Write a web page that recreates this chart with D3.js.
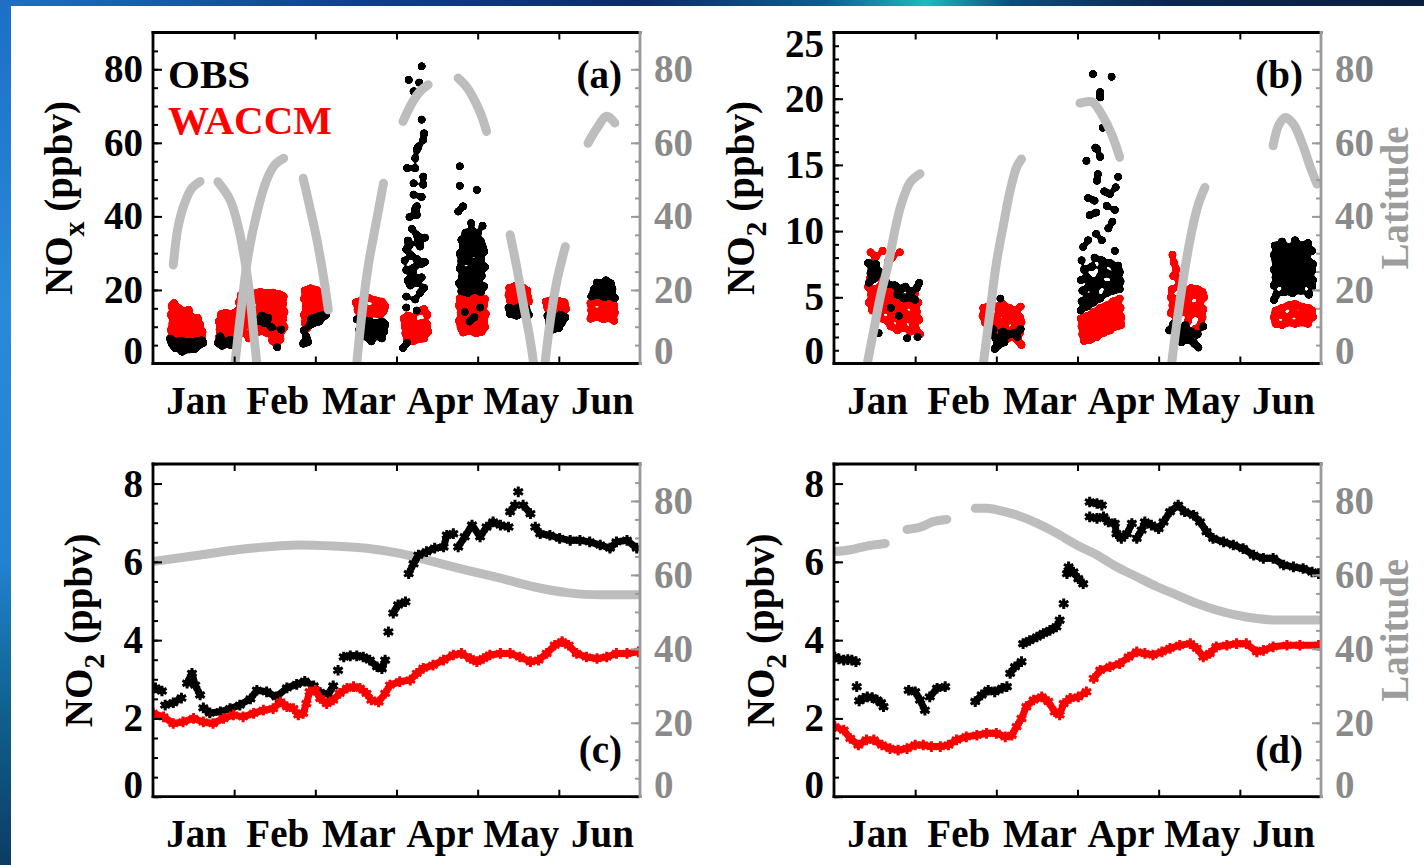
<!DOCTYPE html>
<html>
<head>
<meta charset="utf-8">
<title>NOx and NO2: observations and WACCM</title>
<script src="https://cdn.jsdelivr.net/npm/d3@7"></script>
<style>
  html, body { margin: 0; padding: 0; background: #fff; }
  svg { display: block; }
</style>
</head>
<body>
<svg id="fig" width="1424" height="865"></svg>
<script>
// ---------------------------------------------------------------------------
// Data. Time is measured in months from 1 January (0 = 1 Jan, 6 = 30 Jun).
// Each sample is [month, value].
// ---------------------------------------------------------------------------
const monthLabels = ["Jan", "Feb", "Mar", "Apr", "May", "Jun"];
const monthBoundaries = [1, 2, 3, 4, 5];
const noxTicks = [0, 20, 40, 60, 80];
const no2TicksB = [0, 5, 10, 15, 20, 25];
const no2TicksCD = [0, 2, 4, 6, 8];
const latTicks = [0, 20, 40, 60, 80];

// (a) NOx, flight samples
const obsA = [
  [0.23,5.4],[0.31,4.6],[0.36,3.2],[0.40,4.8],[0.48,4.4],[0.56,4.9],[0.62,5.6],[0.21,6.8],[0.28,5.9],[0.35,6.2],
  [0.44,5.8],[0.53,6.0],[0.60,6.3],[0.27,4.2],[0.52,4.0],[0.45,3.8],
  [0.80,5.6],[0.85,4.8],[0.90,5.4],[0.96,5.0],[1.02,5.8],[0.83,7.4],[0.95,6.4],[1.37,11.0],[1.42,12.4],[1.46,9.8],
  [1.34,13.0],[1.53,4.4],[1.28,11.6],[1.58,9.2],
  [1.95,12.2],[2.02,12.6],[2.07,13.0],[1.98,11.0],[2.05,11.4],[1.86,9.0],[1.89,7.2],[1.85,5.4],[1.91,5.8],[1.93,10.4],
  [2.10,12.8],[2.13,13.2],
  [2.51,12.0],[2.58,11.2],[2.66,11.6],[2.74,11.0],[2.82,11.4],[2.86,10.6],[2.54,9.2],[2.62,9.6],[2.70,9.0],[2.78,9.4],
  [2.85,8.8],[2.58,7.4],[2.66,7.0],[2.74,7.6],[2.82,6.8],[2.69,6.0],
  [3.31,80.8],[3.15,77.1],[3.28,76.4],[3.21,74.0],[3.31,66.3],[3.34,62.6],[3.33,60.8],[3.27,59.0],[3.25,58.1],[3.23,55.8],
  [3.13,53.1],[3.23,53.1],[3.33,50.8],[3.21,49.0],[3.33,48.6],[3.21,45.9],[3.31,45.3],[3.25,42.7],[3.23,41.9],[3.25,40.4],
  [3.16,39.8],[3.25,35.0],[3.35,34.2],[3.14,33.4],[3.16,32.2],[3.29,31.8],[3.12,31.0],[3.25,28.4],[3.35,27.6],[3.21,26.0],
  [3.12,25.4],[3.31,23.4],[3.25,22.0],[3.17,21.2],[3.29,19.2],[3.12,18.2],[3.23,17.4],[3.12,15.2],[3.25,14.4],[3.13,5.6],
  [3.08,4.2],[3.18,29.4],[3.30,27.0],[3.20,24.2],[3.34,20.6],[3.14,22.6],[3.27,33.0],[3.19,36.6],[3.10,28.0],
  [3.80,19.6],[3.88,19.2],[3.96,20.0],[4.04,19.4],
  [3.77,21.8],[3.85,21.2],[3.93,22.0],[4.01,21.6],[4.08,21.0],
  [3.81,23.6],[3.89,24.0],[3.97,23.2],[4.05,23.8],
  [3.78,25.8],[3.86,25.2],[3.94,26.0],[4.02,25.4],[4.09,26.2],
  [3.80,27.8],[3.88,28.0],[3.96,27.4],[4.04,28.2],
  [3.78,29.8],[3.86,29.4],[3.94,30.2],[4.02,29.6],[4.08,30.4],
  [3.82,31.6],[3.90,32.0],[3.98,31.2],[4.06,31.8],
  [3.80,33.6],[3.88,34.2],[3.96,33.8],[4.04,33.2],
  [3.85,35.6],[3.93,36.0],[4.00,35.4],
  [3.78,53.6],[3.78,48.3],[3.99,47.2],[3.82,42.7],[3.76,41.3],[3.92,38.2],[4.06,37.4],[3.84,14.0],[3.96,12.6],[4.03,15.2],
  [3.90,11.4],
  [4.38,15.2],[4.45,14.8],[4.52,15.4],[4.60,15.0],[4.40,13.4],[4.48,13.0],[4.56,13.6],[4.63,13.2],
  [4.86,13.0],[4.94,12.4],[5.02,13.2],[5.08,12.6],[4.88,11.0],[4.96,10.6],[5.04,11.2],[4.92,9.2],[5.00,9.6],
  [5.40,18.2],[5.48,18.6],[5.56,18.0],[5.64,18.4],[5.69,17.8],[5.43,20.0],[5.51,20.4],[5.59,19.8],[5.66,20.2],[5.47,22.0],
  [5.58,22.6],[5.64,21.8],[5.53,21.4]
];
const waccmA = [
  [0.24,7.2],[0.33,6.8],[0.42,7.1],[0.51,6.7],[0.60,7.0],
  [0.22,9.1],[0.28,8.8],[0.37,9.3],[0.46,8.9],[0.55,9.2],[0.61,8.6],
  [0.24,11.0],[0.33,11.4],[0.42,10.8],[0.51,11.2],[0.58,10.6],
  [0.22,13.2],[0.29,12.8],[0.38,13.0],[0.47,12.6],[0.55,12.4],
  [0.23,15.6],[0.27,14.6],[0.32,15.0],[0.36,14.2],[0.44,14.6],[0.26,16.4],
  [0.81,7.0],[0.86,6.2],[0.92,6.8],[0.98,7.4],[1.03,6.6],
  [0.82,9.2],[0.88,8.6],[0.94,9.4],[1.00,8.8],
  [0.81,11.4],[0.87,11.0],[0.93,11.8],[0.99,11.2],
  [0.84,13.4],[0.90,13.8],[0.96,13.2],[1.02,14.0],
  [1.08,18.6],[1.16,19.4],[1.24,19.0],[1.32,19.5],[1.40,19.1],[1.48,19.3],[1.56,18.8],[1.61,18.2],
  [1.06,16.6],[1.12,17.2],[1.20,16.8],[1.28,17.3],[1.36,16.9],[1.44,17.1],[1.52,16.7],[1.60,16.2],
  [1.07,14.6],[1.16,15.0],[1.24,14.4],[1.32,14.9],[1.40,14.5],[1.48,15.1],[1.56,14.6],[1.62,14.0],
  [1.05,12.4],[1.12,12.8],[1.20,12.2],[1.28,12.7],[1.36,12.5],[1.44,12.9],[1.52,12.3],[1.60,12.0],
  [1.06,10.2],[1.16,10.6],[1.24,10.1],[1.32,10.5],[1.40,10.3],[1.48,10.8],[1.56,10.2],[1.62,9.8],
  [1.10,8.4],[1.20,8.0],[1.30,8.6],[1.40,8.3],[1.50,8.1],[1.58,8.7],
  [1.47,6.2],[1.52,5.2],[1.57,6.6],[1.18,6.8],
  [1.87,19.8],[1.94,20.4],[2.01,20.0],[2.06,19.2],
  [1.86,17.6],[1.92,18.0],[1.99,17.8],[2.05,17.2],
  [1.88,15.4],[1.95,15.8],[2.02,15.6],[2.07,15.0],
  [1.86,13.2],[1.93,13.6],[2.00,13.4],
  [1.87,11.0],[1.90,9.6],
  [2.50,16.6],[2.58,17.4],[2.66,17.8],[2.74,17.2],[2.82,16.8],[2.86,15.6],
  [2.52,14.6],[2.60,15.2],[2.68,14.8],[2.76,15.4],[2.84,14.2],
  [2.55,13.4],[2.64,13.0],[2.72,13.6],[2.80,13.2],
  [3.09,12.2],[3.14,13.0],[3.20,12.6],[3.28,14.2],[3.34,14.8],[3.38,13.2],
  [3.10,10.2],[3.17,10.8],[3.24,10.4],[3.31,11.0],[3.38,10.6],
  [3.11,8.2],[3.18,8.8],[3.25,8.4],[3.32,9.0],[3.39,8.6],
  [3.13,6.4],[3.20,6.0],[3.27,6.6],[3.34,6.8],
  [3.78,17.8],[3.86,18.4],[3.94,18.0],[4.02,18.3],[4.09,17.6],
  [3.77,15.8],[3.84,16.2],[3.92,15.6],[4.00,16.4],[4.08,15.9],
  [3.79,13.8],[3.87,14.2],[3.95,13.6],[4.03,14.0],[4.10,13.5],
  [3.77,11.6],[3.85,12.0],[3.93,11.4],[4.01,12.2],[4.08,11.8],
  [3.79,9.8],[3.86,9.4],[3.94,10.0],[4.02,9.6],[4.09,9.9],
  [3.82,8.4],[3.90,8.8],[3.98,8.2],[4.05,8.6],
  [4.39,20.6],[4.47,21.2],[4.55,20.8],[4.61,19.8],[4.38,18.6],[4.46,19.0],[4.54,18.4],[4.62,18.0],[4.40,17.0],[4.48,16.6],
  [4.56,17.2],[4.63,16.8],
  [4.84,16.8],[4.92,17.4],[5.00,17.0],[5.07,16.6],[4.86,15.0],[4.94,14.6],[5.02,15.2],[5.09,14.8],
  [5.39,16.4],[5.47,16.8],[5.55,16.2],[5.63,16.6],[5.68,15.8],[5.40,14.4],[5.48,14.0],[5.56,14.6],[5.64,14.2],[5.69,13.8],
  [5.39,12.2],[5.47,12.6],[5.55,12.0],[5.63,12.4],[5.68,11.6]
];
// (a) latitude along each flight, degrees
const latTracksA = [
  [[0.25,26.8],[0.31,37.2],[0.39,43.6],[0.48,47.7],[0.58,49.5]],
  [[0.80,49.4],[0.95,44.5],[1.05,37.2],[1.13,28.2],[1.20,17.3],[1.24,8.2],[1.28,0]],
  [[1.01,0],[1.09,15.5],[1.17,29.1],[1.28,40.9],[1.40,49.9],[1.50,54.0],[1.61,55.8]],
  [[1.85,50.4],[1.93,42.7],[2.02,33.6],[2.10,23.6],[2.16,14.6]],
  [[2.51,0],[2.57,12.7],[2.65,26.3],[2.74,37.2],[2.84,49.0]],
  [[3.08,65.8],[3.19,70.8],[3.29,74.0],[3.39,75.8]],
  [[3.76,77.6],[3.86,75.3],[3.97,71.2],[4.05,67.2],[4.11,63.1]],
  [[4.40,35.0],[4.48,26.3],[4.56,16.4],[4.64,7.3],[4.69,0]],
  [[4.83,0],[4.89,10.9],[4.97,21.8],[5.08,31.8]],
  [[5.36,59.9],[5.47,64.0],[5.59,67.2],[5.69,65.4]]
];

// (b) NO2, flight samples
const obsB = [
  [0.42,7.6],[0.47,7.2],[0.52,7.5],[0.45,6.8],[0.50,6.4],[0.57,6.9],[0.62,6.6],[0.66,6.0],[0.43,6.1],
  [0.75,5.9],[0.82,5.6],[0.88,5.8],[0.95,5.4],[1.02,5.7],[0.78,5.2],[0.86,4.9],[0.93,5.0],[1.00,4.8],[1.05,6.1],
  [0.55,2.3],[0.90,1.9],[1.03,2.0],[0.80,3.6],[0.70,4.2],
  [2.05,4.9],[1.94,2.2],[2.00,1.8],[2.06,2.0],[2.03,1.4],[2.10,1.6],[1.98,1.1],[2.16,2.2],[2.22,2.3],[2.26,2.0],
  [2.08,2.4],[1.96,2.6],[2.30,2.6],
  [3.04,4.0],[3.12,4.3],[3.20,4.6],[3.28,4.9],
  [3.05,4.7],[3.13,5.0],[3.21,5.2],[3.36,5.3],[3.44,5.5],[3.52,5.6],
  [3.06,5.5],[3.14,5.8],[3.22,5.6],[3.30,6.0],[3.38,5.9],[3.46,6.1],[3.53,6.2],
  [3.04,6.3],[3.12,6.5],[3.20,6.2],[3.28,6.6],[3.36,6.8],[3.44,6.6],[3.52,6.9],
  [3.08,7.1],[3.18,7.3],[3.30,7.2],[3.40,7.6],[3.50,7.4],
  [3.19,21.85],[3.42,21.65],[3.28,20.5],[3.28,20.1],[3.31,17.8],[3.22,16.3],[3.11,15.3],[3.24,16.2],[3.25,14.3],[3.50,14.1],
  [3.24,13.8],[3.47,13.3],[3.13,12.5],[3.21,12.3],[3.36,11.9],[3.46,11.6],[3.23,11.4],[3.43,10.7],[3.23,9.8],[3.13,9.3],
  [3.30,9.3],[3.46,8.5],[3.21,8.0],[3.30,7.8],[3.17,7.3],[3.46,7.3],[3.50,6.8],[3.07,8.8],[3.38,10.2],[3.15,11.2],
  [3.40,12.8],[3.28,15.6],[3.33,13.0],[3.05,7.8],
  [4.18,3.0],[4.26,2.6],[4.33,2.9],[4.40,2.4],[4.30,2.2],[4.22,2.0],[4.37,1.8],[4.44,1.5],[4.49,1.2],[4.28,1.6],
  [4.48,2.2],[4.55,2.8],[4.13,2.5],
  [5.43,8.9],[5.52,9.2],[5.60,8.8],[5.68,9.3],[5.76,8.9],[5.84,9.1],
  [5.42,8.2],[5.50,8.5],[5.58,8.3],[5.66,8.6],[5.74,8.2],[5.82,8.4],[5.89,8.5],
  [5.44,7.7],[5.52,7.9],[5.60,7.6],[5.68,7.9],[5.76,7.7],[5.84,7.8],[5.90,7.5],
  [5.42,7.1],[5.50,7.3],[5.58,7.0],[5.66,7.2],[5.74,7.1],[5.82,7.3],[5.89,7.0],
  [5.44,6.5],[5.52,6.7],[5.60,6.4],[5.68,6.6],[5.76,6.5],[5.84,6.7],[5.90,6.3],
  [5.42,5.9],[5.50,6.1],[5.58,5.8],[5.66,6.0],[5.74,5.9],[5.82,6.1],[5.89,5.8],
  [5.45,5.2],[5.55,5.4],[5.65,5.3],[5.75,5.5],[5.85,5.2],[5.42,4.8]
];
const waccmB = [
  [0.45,8.4],[0.52,8.1],[0.60,8.5],[0.72,8.0],[0.81,8.4],[0.48,7.6],[0.67,7.8],
  [0.44,6.4],[0.55,6.6],[0.64,6.2],
  [0.42,5.8],[0.50,5.6],[0.58,5.9],[0.66,5.5],[0.74,5.7],
  [0.46,5.2],[0.54,5.0],[0.62,5.3],[0.70,4.9],[0.78,5.1],[0.86,5.0],[0.92,5.1],[1.00,5.3],
  [0.43,4.6],[0.51,4.4],[0.59,4.7],[0.67,4.3],[0.75,4.6],[0.83,4.4],[0.91,4.5],[0.99,4.2],[1.04,4.6],
  [0.47,4.0],[0.55,3.8],[0.63,4.1],[0.71,3.7],[0.79,4.0],[0.87,3.8],[0.95,3.6],[1.02,3.9],
  [0.58,3.4],[0.66,3.2],[0.74,3.5],[0.82,3.1],[0.90,3.4],[0.98,3.0],[1.05,3.3],
  [0.70,2.8],[0.78,2.5],[0.86,2.7],[0.94,2.4],[1.01,2.6],[1.06,2.2],
  [1.84,4.2],[1.92,4.4],[2.00,4.3],[2.08,4.5],[2.16,4.2],[2.24,4.0],[2.30,4.3],
  [1.83,3.6],[1.89,3.8],[1.97,3.5],[2.05,3.9],[2.13,3.6],[2.21,3.8],[2.29,3.5],
  [1.86,3.1],[1.94,2.9],[2.02,3.2],[2.10,3.0],[2.18,3.3],[2.26,2.9],[2.31,3.1],
  [1.90,2.5],[1.98,2.3],[2.06,2.6],[2.14,2.4],[2.22,2.6],[2.29,2.3],
  [2.12,1.8],[2.20,2.0],[2.27,1.7],[2.31,1.4],
  [3.04,3.4],[3.12,3.6],[3.20,3.9],[3.28,4.2],[3.36,4.4],[3.44,4.7],[3.52,4.9],
  [3.05,2.8],[3.13,3.0],[3.21,3.2],[3.29,3.5],[3.37,3.7],[3.45,4.0],[3.53,4.2],
  [3.06,2.2],[3.14,2.4],[3.22,2.6],[3.30,2.9],[3.38,3.1],[3.46,3.4],[3.54,3.5],
  [3.08,1.7],[3.16,1.8],[3.24,2.0],[3.32,2.3],[3.40,2.5],[3.48,2.8],[3.54,2.9],
  [4.17,8.2],[4.19,7.6],[4.22,7.1],[4.18,6.6],[4.25,6.4],
  [4.16,5.6],[4.24,5.8],[4.32,5.5],[4.40,5.7],[4.48,5.6],[4.54,5.4],
  [4.15,5.0],[4.20,4.8],[4.28,5.1],[4.36,4.9],[4.44,5.2],[4.52,4.8],[4.56,5.0],
  [4.17,4.4],[4.25,4.2],[4.33,4.5],[4.41,4.3],[4.49,4.4],[4.55,4.1],
  [4.15,3.8],[4.23,3.6],[4.31,3.9],[4.39,3.7],[4.47,3.8],[4.54,3.5],
  [4.20,3.1],[4.36,3.2],[4.52,3.0],[4.45,2.6],
  [5.44,4.0],[5.52,4.2],[5.60,4.4],[5.68,4.5],[5.76,4.3],[5.84,4.2],[5.89,4.0],
  [5.42,3.5],[5.50,3.7],[5.58,3.5],[5.66,3.8],[5.74,3.6],[5.82,3.7],[5.90,3.5],
  [5.44,3.0],[5.52,2.9],[5.60,3.1],[5.68,3.0],[5.76,3.1],[5.84,3.0]
];
const latTracksB = [
  [[0.41,0],[0.49,9.1],[0.57,18.1],[0.67,27.2],[0.75,36.2],[0.83,43.4],[0.94,49.3],[1.06,51.6]],
  [[1.84,0],[1.92,13.6],[2.00,27.2],[2.09,38.0],[2.17,47.0],[2.25,53.4],[2.31,55.6]],
  [[3.03,70.8],[3.12,71.2],[3.19,71.0],[3.32,66.9],[3.42,62.4],[3.52,56.1]],
  [[4.16,0],[4.24,13.6],[4.32,25.3],[4.41,36.2],[4.49,43.4],[4.57,47.9]],
  [[5.41,59.2],[5.48,64.8],[5.56,66.9],[5.66,65.1],[5.77,59.7],[5.87,53.3],[5.95,48.8]]
];

// (c) NO2 time series and latitude
const obsC = [
  [0.03,2.78],[0.11,2.70],[0.15,2.34],[0.25,2.40],[0.35,2.52],[0.42,2.90],[0.48,3.15],[0.52,2.85],[0.58,2.60],[0.62,2.27],
  [0.70,2.14],[0.83,2.17],[0.95,2.25],[1.07,2.34],[1.20,2.50],[1.28,2.72],[1.40,2.68],[1.52,2.55],[1.65,2.78],[1.77,2.87],
  [1.87,2.95],[1.98,2.83],[2.06,2.66],[2.16,2.62],[2.22,2.83],[2.28,3.23],[2.35,3.57],[2.43,3.60],[2.51,3.60],[2.59,3.57],
  [2.67,3.49],[2.76,3.32],[2.82,3.27],[2.86,3.49],[2.90,4.21],[2.96,4.69],[3.02,4.90],[3.11,4.98],[3.15,5.70],[3.21,5.95],
  [3.27,6.17],[3.37,6.26],[3.47,6.35],[3.58,6.38],[3.62,6.68],[3.70,6.72],[3.76,6.38],[3.84,6.64],[3.93,6.94],[4.03,6.64],
  [4.11,6.89],[4.19,7.02],[4.28,6.94],[4.38,6.89],[4.40,7.28],[4.46,7.45],[4.50,7.79],[4.56,7.45],[4.65,7.23],[4.71,6.89],
  [4.77,6.72],[4.89,6.68],[5.01,6.60],[5.14,6.55],[5.26,6.55],[5.38,6.51],[5.51,6.43],[5.63,6.35],[5.71,6.51],[5.84,6.55],
  [5.96,6.35]
];
const waccmC = [
  [0.00,2.13],[0.13,2.04],[0.25,1.87],[0.37,1.91],[0.50,2.00],[0.62,1.91],[0.74,1.87],[0.87,2.00],[0.99,2.09],[1.11,2.04],
  [1.24,2.13],[1.36,2.21],[1.48,2.25],[1.57,2.42],[1.65,2.30],[1.73,2.25],[1.79,2.09],[1.85,2.13],[1.89,2.38],[1.93,2.68],
  [2.00,2.72],[2.06,2.51],[2.14,2.38],[2.22,2.47],[2.30,2.64],[2.39,2.77],[2.47,2.81],[2.55,2.77],[2.63,2.64],[2.69,2.47],
  [2.78,2.42],[2.86,2.64],[2.92,2.85],[3.04,2.94],[3.17,2.98],[3.25,3.15],[3.33,3.28],[3.45,3.36],[3.58,3.49],[3.70,3.62],
  [3.80,3.66],[3.91,3.53],[3.99,3.45],[4.07,3.53],[4.15,3.62],[4.28,3.66],[4.40,3.66],[4.52,3.57],[4.65,3.45],[4.75,3.49],
  [4.85,3.66],[4.95,3.87],[5.04,3.96],[5.12,3.87],[5.22,3.66],[5.34,3.57],[5.47,3.53],[5.59,3.57],[5.71,3.66],[5.84,3.66],
  [5.98,3.70]
];
const latC = [
  [0.00,63.6],[0.58,65.4],[1.20,67.2],[1.81,68.1],[2.22,67.8],[2.63,67.2],[3.04,65.8],[3.45,63.6],[3.86,61.3],[4.28,59.1],
  [4.69,56.8],[5.10,55.2],[5.51,54.6],[6.00,54.6]
];

// (d) NO2 time series and latitude (null marks a gap in the record)
const obsD = [
  [0.01,3.57],[0.06,3.52],[0.12,3.49],[0.17,3.50],[0.22,3.49],[0.27,3.45],
  [0.28,2.81],[0.31,2.45],[0.36,2.51],[0.41,2.55],[0.47,2.53],[0.53,2.47],[0.58,2.40],[0.61,2.30],
  [0.92,2.72],[1.00,2.68],[1.06,2.47],[1.12,2.21],[1.18,2.55],[1.27,2.77],[1.37,2.81],
  [1.74,2.43],[1.82,2.60],[1.90,2.72],[1.98,2.68],[2.07,2.77],[2.13,2.81],[2.17,3.15],[2.23,3.32],[2.31,3.45],[2.33,3.91],
  [2.41,3.99],[2.50,4.08],[2.58,4.17],[2.66,4.25],[2.74,4.34],[2.78,4.51],[2.83,4.93],[2.87,5.70],[2.89,5.87],[2.95,5.74],
  [3.01,5.57],[3.07,5.44],
  [3.15,7.53],[3.24,7.49],[3.30,7.45],
  [3.15,7.15],[3.24,7.11],[3.32,7.15],[3.38,7.02],[3.46,6.98],[3.48,6.72],[3.54,6.60],[3.61,6.72],[3.67,6.98],[3.73,6.60],
  [3.79,6.81],[3.83,7.02],[3.91,6.94],[4.00,6.85],[4.06,7.02],[4.14,7.28],[4.24,7.45],[4.32,7.28],[4.43,7.19],[4.51,7.02],
  [4.59,6.77],[4.67,6.60],[4.80,6.51],[4.92,6.43],[5.04,6.34],[5.17,6.17],[5.29,6.09],[5.41,6.09],[5.54,5.92],[5.66,5.87],
  [5.78,5.83],[5.89,5.74],[5.97,5.70]
];
const waccmD = [
  [0.01,1.79],[0.12,1.70],[0.20,1.49],[0.30,1.32],[0.40,1.45],[0.49,1.45],[0.59,1.32],[0.69,1.23],[0.79,1.19],[0.90,1.23],
  [1.00,1.32],[1.10,1.32],[1.20,1.28],[1.31,1.28],[1.41,1.32],[1.51,1.45],[1.63,1.53],[1.76,1.57],[1.88,1.62],[2.00,1.62],
  [2.11,1.53],[2.19,1.57],[2.25,1.79],[2.31,2.00],[2.37,2.30],[2.46,2.47],[2.56,2.55],[2.64,2.43],[2.72,2.17],[2.78,2.09],
  [2.83,2.38],[2.91,2.51],[3.01,2.55],[3.11,2.68],[3.20,3.02],[3.28,3.23],[3.40,3.32],[3.52,3.40],[3.63,3.57],[3.73,3.70],
  [3.83,3.66],[3.93,3.62],[4.04,3.70],[4.14,3.79],[4.26,3.87],[4.39,3.91],[4.47,3.79],[4.55,3.57],[4.63,3.66],[4.71,3.83],
  [4.84,3.87],[4.96,3.91],[5.08,3.91],[5.21,3.70],[5.29,3.74],[5.41,3.83],[5.58,3.87],[5.74,3.87],[5.97,3.87]
];
const latD = [
  [0.01,66.3],[0.20,66.8],[0.40,67.8],[0.63,68.5], null,
  [0.90,72.3],[1.06,72.9],[1.22,74.4],[1.39,75.0], null,
  [1.74,78.0],[1.88,78.0],[2.05,77.4],[2.25,76.2],[2.50,74.0],[2.74,71.3],[2.99,68.1],[3.24,65.4],[3.48,62.2],[3.73,59.5],
  [3.98,56.8],[4.22,54.6],[4.47,52.3],[4.71,50.5],[4.96,49.1],[5.21,48.2],[5.45,47.8],[5.70,47.8],[5.97,47.8]
];

// ---------------------------------------------------------------------------
// Drawing
// ---------------------------------------------------------------------------
const SERIF = '"Liberation Serif", "Times New Roman", Times, serif';
const FS = 39;
const RED = "#ff0000";
const TRACK = "#bdbdbd";
const AXIS_GRAY = "#9a9a9a";
const TEXT_GRAY = "#8a8a8a";

const svg = d3.select("#fig");
const defs = svg.append("defs");

// slide backdrop: blue edges around a white page
const sideGrad = defs.append("linearGradient").attr("id", "side").attr("x1", 0).attr("y1", 0).attr("x2", 0).attr("y2", 1);
[["0%", "#1c6fc6"], ["35%", "#2a8ad8"], ["65%", "#2282cf"], ["82%", "#0f6190"], ["100%", "#0b3c64"]]
  .forEach(([o, c]) => sideGrad.append("stop").attr("offset", o).attr("stop-color", c));
const topGrad = defs.append("linearGradient").attr("id", "topband").attr("x1", 0).attr("y1", 0).attr("x2", 1).attr("y2", 0);
[["0%", "#1f6fc6"], ["25%", "#10408a"], ["45%", "#0b2c66"], ["58%", "#0f5c8c"], ["65%", "#1bbdbd"], ["71%", "#0e4d7a"],
 ["82%", "#0a2752"], ["100%", "#0a1e40"]]
  .forEach(([o, c]) => topGrad.append("stop").attr("offset", o).attr("stop-color", c));
svg.append("rect").attr("width", 1424).attr("height", 865).attr("fill", "url(#side)");
svg.append("rect").attr("width", 1424).attr("height", 6).attr("fill", "url(#topband)");
svg.append("rect").attr("x", 11).attr("y", 6).attr("width", 1413).attr("height", 859).attr("fill", "#fff");

// merges touching dots of one colour into solid clouds while single dots stay round
const merge = defs.append("filter").attr("id", "merge")
  .attr("x", "-5%").attr("y", "-5%").attr("width", "110%").attr("height", "110%")
  .attr("color-interpolation-filters", "sRGB");
merge.append("feGaussianBlur").attr("in", "SourceGraphic").attr("stdDeviation", 1.7).attr("result", "soft");
merge.append("feColorMatrix").attr("in", "soft").attr("type", "matrix")
  .attr("values", "1 0 0 0 0  0 1 0 0 0  0 0 1 0 0  0 0 0 12 -5");

function scatter(g, pts, sc, color) {
  g.append("g").attr("fill", color).attr("filter", "url(#merge)")
    .selectAll("circle").data(pts).join("circle")
    .attr("cx", d => sc.x(d[0])).attr("cy", d => sc.y(d[1])).attr("r", 4.1);
}

function tracks(g, arcs, sc) {
  const line = d3.line().x(d => sc.x(d[0])).y(d => sc.lat(d[1])).curve(d3.curveCatmullRom.alpha(0.5));
  g.append("g").attr("fill", "none").attr("stroke", TRACK).attr("stroke-width", 9).attr("stroke-linecap", "round")
    .selectAll("path").data(arcs).join("path").attr("d", line);
}

function latCurve(g, pts, sc) {
  const line = d3.line().defined(d => d !== null)
    .x(d => sc.x(d[0])).y(d => sc.lat(d[1])).curve(d3.curveMonotoneX);
  g.append("path").datum(pts).attr("d", line).attr("fill", "none")
    .attr("stroke", TRACK).attr("stroke-width", 9).attr("stroke-linecap", "round");
}

// dense marker record: neighbouring samples are joined, jumps are left open
function series(g, pts, sc, color) {
  const links = d3.pairs(pts).filter(([p, q]) => q[0] > p[0] && q[0] - p[0] <= 0.25 && Math.abs(q[1] - p[1]) <= 0.32);
  g.append("g").attr("stroke", color).attr("stroke-width", 7).attr("stroke-linecap", "round")
    .selectAll("line").data(links).join("line")
    .attr("x1", d => sc.x(d[0][0])).attr("y1", d => sc.y(d[0][1]))
    .attr("x2", d => sc.x(d[1][0])).attr("y2", d => sc.y(d[1][1]));
  const sym = d3.symbol(d3.symbolAsterisk, 80);
  const marks = g.append("g").selectAll("g").data(pts).join("g")
    .attr("transform", d => `translate(${sc.x(d[0])},${sc.y(d[1])})`);
  marks.append("circle").attr("r", 3).attr("fill", color);
  marks.append("path").attr("d", sym).attr("stroke", color).attr("stroke-width", 3).attr("fill", "none");
}

const panels = [
  { id: "a", x0: 153, x1: 640, y0: 32.5, y1: 363.5, yMax: 90, yTicks: noxTicks, yMinor: 5, sub: "x", titleX: 72,
    tag: "(a)", tagY: 88, latLabel: false, legend: true,
    draw: (g, sc) => { scatter(g, waccmA, sc, RED); scatter(g, obsA, sc, "#000"); tracks(g, latTracksA, sc); } },
  { id: "b", x0: 834, x1: 1321, y0: 32.5, y1: 363.5, yMax: 25, yTicks: no2TicksB, yMinor: 1, sub: "2", titleX: 754,
    tag: "(b)", tagY: 88, latLabel: true,
    draw: (g, sc) => { scatter(g, waccmB, sc, RED); scatter(g, obsB, sc, "#000"); tracks(g, latTracksB, sc); } },
  { id: "c", x0: 153, x1: 640, y0: 464, y1: 796.7, yMax: 8.5, yTicks: no2TicksCD, yMinor: 0.5, sub: "2", titleX: 92,
    tag: "(c)", tagY: 763, latLabel: false,
    draw: (g, sc) => { latCurve(g, latC, sc); series(g, obsC, sc, "#000"); series(g, waccmC, sc, RED); } },
  { id: "d", x0: 834, x1: 1321, y0: 464, y1: 796.7, yMax: 8.5, yTicks: no2TicksCD, yMinor: 0.5, sub: "2", titleX: 774,
    tag: "(d)", tagY: 763, latLabel: true,
    draw: (g, sc) => { latCurve(g, latD, sc); series(g, obsD, sc, "#000"); series(g, waccmD, sc, RED); } }
];

function styleAxis(sel, color) {
  sel.select(".domain").remove();
  sel.attr("font-size", FS).attr("font-family", SERIF).attr("font-weight", "bold").attr("color", color);
  sel.selectAll(".tick line").attr("stroke-width", 2);
}

panels.forEach(p => {
  const sc = {
    x: d3.scaleLinear().domain([0, 6]).range([p.x0, p.x1]),
    y: d3.scaleLinear().domain([0, p.yMax]).range([p.y1, p.y0]),
    lat: d3.scaleLinear().domain([0, 90]).range([p.y1, p.y0])
  };
  const g = svg.append("g").attr("class", "panel-" + p.id);

  defs.append("clipPath").attr("id", "clip-" + p.id).append("rect")
    .attr("x", p.x0).attr("y", p.y0).attr("width", p.x1 - p.x0).attr("height", p.y1 - p.y0);
  const plot = g.append("g").attr("clip-path", `url(#clip-${p.id})`);
  p.draw(plot, sc);

  // month ticks on bottom and top edges
  g.append("g").attr("transform", `translate(0,${p.y1})`)
    .call(d3.axisBottom(sc.x).tickValues(monthBoundaries).tickSizeInner(-7).tickSizeOuter(0).tickFormat(() => ""))
    .call(s => styleAxis(s, "#000"));
  g.append("g").attr("transform", `translate(0,${p.y0})`)
    .call(d3.axisTop(sc.x).tickValues(monthBoundaries).tickSizeInner(-7).tickSizeOuter(0).tickFormat(() => ""))
    .call(s => styleAxis(s, "#000"));
  g.append("g").attr("font-family", SERIF).attr("font-weight", "bold").attr("font-size", FS).attr("text-anchor", "middle")
    .selectAll("text").data(monthLabels).join("text")
    .attr("x", (d, i) => sc.x(i + 0.5) + 3).attr("y", p.y1 + 50).text(d => d);

  // left value axis
  const minorY = d3.range(0, p.yMax + 1e-9, p.yMinor);
  g.append("g").attr("transform", `translate(${p.x0},0)`)
    .call(d3.axisLeft(sc.y).tickValues(minorY).tickSizeInner(-5).tickSizeOuter(0).tickFormat(() => ""))
    .call(s => styleAxis(s, "#000"));
  const left = g.append("g").attr("transform", `translate(${p.x0},0)`)
    .call(d3.axisLeft(sc.y).tickValues(p.yTicks).tickSizeInner(-9).tickSizeOuter(0).tickPadding(10).tickFormat(d3.format("d")))
    .call(s => styleAxis(s, "#000"));
  left.selectAll(".tick text")
    .attr("transform", d => d === 0 ? "translate(0,-12)" : (d === p.yMax ? "translate(0,12)" : null));

  // right latitude axis
  const minorLat = d3.range(0, 90.001, 5);
  g.append("g").attr("transform", `translate(${p.x1},0)`)
    .call(d3.axisRight(sc.lat).tickValues(minorLat).tickSizeInner(-5).tickSizeOuter(0).tickFormat(() => ""))
    .call(s => styleAxis(s, AXIS_GRAY));
  const right = g.append("g").attr("transform", `translate(${p.x1},0)`)
    .call(d3.axisRight(sc.lat).tickValues(latTicks).tickSizeInner(-9).tickSizeOuter(0).tickPadding(14).tickFormat(d3.format("d")))
    .call(s => styleAxis(s, AXIS_GRAY));
  right.selectAll(".tick text").attr("fill", TEXT_GRAY)
    .attr("transform", d => d === 0 ? "translate(0,-12)" : null);

  // frame
  const frame = g.append("g").attr("stroke-width", 2.8).attr("stroke-linecap", "square");
  frame.append("line").attr("x1", p.x0).attr("x2", p.x1).attr("y1", p.y0).attr("y2", p.y0).attr("stroke", "#000");
  frame.append("line").attr("x1", p.x0).attr("x2", p.x1).attr("y1", p.y1).attr("y2", p.y1).attr("stroke", "#000");
  frame.append("line").attr("x1", p.x0).attr("x2", p.x0).attr("y1", p.y0).attr("y2", p.y1).attr("stroke", "#000");
  frame.append("line").attr("x1", p.x1).attr("x2", p.x1).attr("y1", p.y0).attr("y2", p.y1).attr("stroke", AXIS_GRAY);

  // axis titles
  const midY = (p.y0 + p.y1) / 2;
  const title = g.append("text").attr("transform", `translate(${p.titleX},${midY}) rotate(-90)`)
    .attr("text-anchor", "middle").attr("font-family", SERIF).attr("font-weight", "bold").attr("font-size", FS);
  title.append("tspan").text("NO");
  title.append("tspan").attr("font-size", 30).attr("dy", 12).text(p.sub);
  title.append("tspan").attr("dy", -12).text(" (ppbv)");

  if (p.latLabel) {
    g.append("text").attr("transform", `translate(1408,${midY}) rotate(-90)`)
      .attr("text-anchor", "middle").attr("font-family", SERIF).attr("font-weight", "bold").attr("font-size", FS)
      .attr("fill", "#9c9c9c").text("Latitude");
  }

  // panel tag
  g.append("text").attr("x", p.x1 - 18).attr("y", p.tagY).attr("text-anchor", "end")
    .attr("font-family", SERIF).attr("font-weight", "bold").attr("font-size", FS).text(p.tag);

  if (p.legend) {
    g.append("text").attr("x", p.x0 + 15).attr("y", 88).attr("font-family", SERIF).attr("font-weight", "bold")
      .attr("font-size", 41).attr("fill", "#000").text("OBS");
    g.append("text").attr("x", p.x0 + 15).attr("y", 134).attr("font-family", SERIF).attr("font-weight", "bold")
      .attr("font-size", 41).attr("fill", RED).text("WACCM");
  }
});
</script>
</body>
</html>
